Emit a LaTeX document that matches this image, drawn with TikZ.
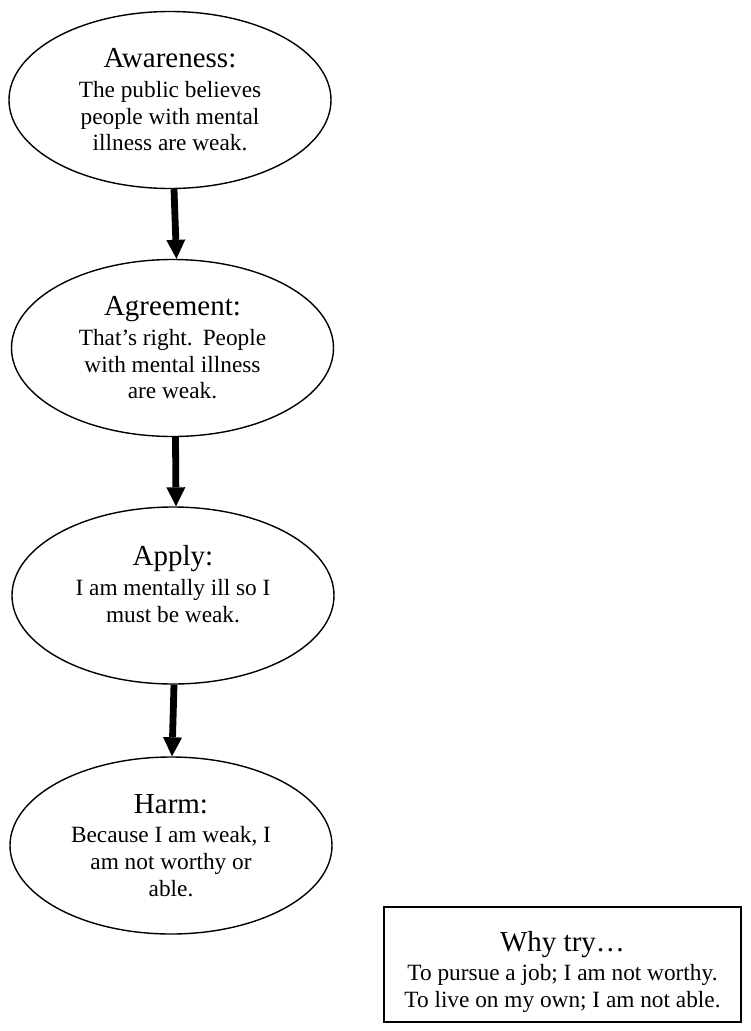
\documentclass[tikz,border=0pt]{standalone}
\usepackage{fontspec}
\setmainfont{Liberation Serif}
\usetikzlibrary{shapes.geometric,arrows.meta}
\newcommand\ttlfont{\fontsize{29}{26.7}\selectfont}
\tikzset{
  ell/.style={ellipse, draw, line width=1.4pt, minimum width=322pt, minimum height=177pt,
    inner sep=0pt, align=center, font=\fontsize{23.3}{26.7}\selectfont},
  whybox/.style={rectangle, draw, line width=1.3pt, minimum width=357pt, minimum height=115pt,
    inner sep=0pt, align=center, font=\fontsize{23.3}{26.7}\selectfont},
  arr/.style={line width=6.8pt, -{Triangle[width=19pt,length=19pt,line width=0pt]}}
}
\begin{document}
\begin{tikzpicture}[x=1pt,y=-1pt]
\useasboundingbox (0,0) rectangle (751,1031);
\node[ell] (aw) at (170,100) {{\ttlfont Awareness:}\\[2.8pt]The public believes\\people with mental\\illness are weak.};
\node[ell] (ag) at (172.5,348) {{\ttlfont Agreement:}\\[2.8pt]That’s right.\hspace{10pt}People\\with mental illness\\are weak.};
\node[ell] (ap) at (173,595.5) {{\ttlfont Apply:}\\[2.8pt]I am mentally ill so I\\must be weak.\rule[-23pt]{0pt}{23pt}};
\node[ell] (ha) at (171,845.5) {{\ttlfont Harm:}\\[2.8pt]Because I am weak, I\\am not worthy or\\able.};
\node[whybox] (why) at (562.5,964.5) {\rule{0pt}{35pt}{\ttlfont Why try…}\\[2.8pt]To pursue a job; I am not worthy.\\To live on my own; I am not able.};
\draw[arr] ([xshift=4pt]aw.south) -- ([xshift=4pt]ag.north);
\draw[arr] ([xshift=3pt]ag.south) -- ([xshift=3pt]ap.north);
\draw[arr] ([xshift=1pt]ap.south) -- ([xshift=1pt]ha.north);
\end{tikzpicture}
\end{document}
